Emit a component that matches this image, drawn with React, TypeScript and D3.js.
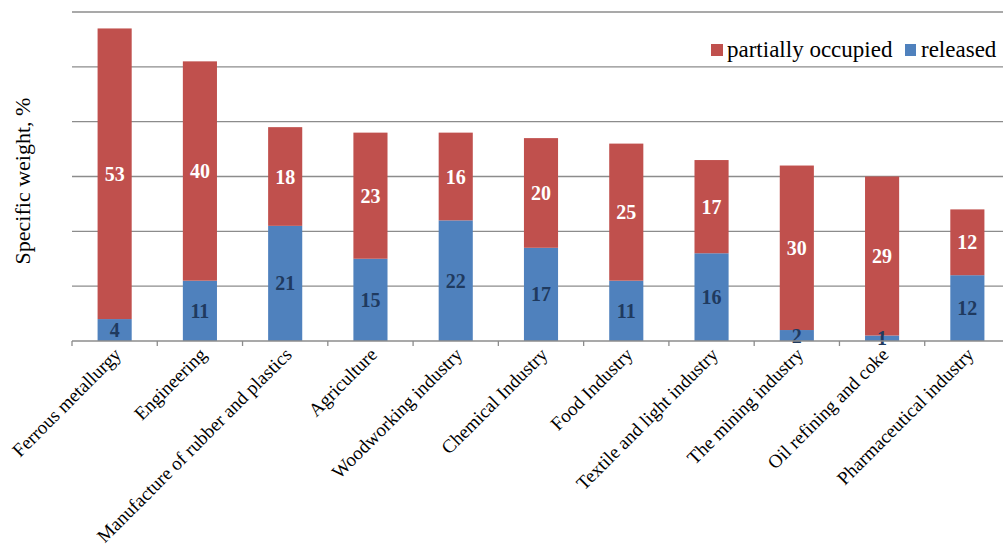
import React from 'react'
import * as d3 from 'd3'

const categories = [
  'Ferrous metallurgy',
  'Engineering',
  'Manufacture of rubber and plastics',
  'Agriculture',
  'Woodworking industry',
  'Chemical Industry',
  'Food Industry',
  'Textile and light industry',
  'The mining industry',
  'Oil refining and coke',
  'Pharmaceutical industry',
]
const released = [4, 11, 21, 15, 22, 17, 11, 16, 2, 1, 12]
const partiallyOccupied = [53, 40, 18, 23, 16, 20, 25, 17, 30, 29, 12]
const yTicks = [0, 10, 20, 30, 40, 50, 60]

const W = 1003
const H = 546
const left = 72
const right = 1010
const top = 12
const bottom = 341
const RED = '#C0504D'
const BLUE = '#4F81BD'
const GRID = '#8c8c8c'
const FONT = 'Liberation Serif, Times New Roman, serif'

export default () => {
  const x = d3.scaleBand().domain(categories).range([left, right]).paddingInner(0).paddingOuter(0)
  const y = d3.scaleLinear().domain([0, 60]).range([bottom, top])
  const bw = x.bandwidth() * 0.4

  const rows = categories.map((c, i) => ({ c, released: released[i], partial: partiallyOccupied[i] }))
  const stack = d3.stack<any>().keys(['released', 'partial'])(rows)
  const colors = [BLUE, RED]
  const labelColors = ['#1F3A5F', '#ffffff']

  return (
    <svg width={W} height={H} style={{ position: 'absolute', left: 0, top: 0, fontFamily: FONT }}>
      <rect width={W} height={H} fill="#fff" />
      {yTicks.slice(1).map((t) => (
        <line key={t} x1={left} x2={right} y1={y(t)} y2={y(t)} stroke={GRID} strokeWidth={1.3} />
      ))}
      {stack.map((s, si) => (
        <g key={s.key}>
          {s.map((d, i) => (
            <rect
              key={i}
              x={x(categories[i])! + (x.bandwidth() - bw) / 2}
              y={y(d[1])}
              width={bw}
              height={y(d[0]) - y(d[1])}
              fill={colors[si]}
            />
          ))}
        </g>
      ))}
      {stack.map((s, si) => (
        <g key={'l' + s.key}>
          {s.map((d, i) => (
            <text
              key={i}
              x={x(categories[i])! + x.bandwidth() / 2}
              y={(y(d[0]) + y(d[1])) / 2}
              dy="0.35em"
              textAnchor="middle"
              fill={labelColors[si]}
              style={{ fontFamily: FONT }}
              fontWeight="bold"
              fontSize={20}
            >
              {d[1] - d[0]}
            </text>
          ))}
        </g>
      ))}
      <line x1={left} x2={right} y1={bottom} y2={bottom} stroke={GRID} strokeWidth={1.3} />
      {categories.concat(['']).map((c, i) => {
        const tx = left + i * x.step()
        return <line key={i} x1={tx} x2={tx} y1={bottom} y2={bottom + 5} stroke={GRID} strokeWidth={1.3} />
      })}
      {categories.map((c) => {
        const cx = x(c)! + x.bandwidth() / 2 + 3
        return (
          <text
            key={c}
            transform={`translate(${cx},${bottom + 10}) rotate(-45)`}
            textAnchor="end"
            dy="0.35em"
            style={{ fontFamily: FONT }}
            fontSize={19}
            fill="#000"
          >
            {c}
          </text>
        )
      })}
      <text
        transform={`translate(30,181) rotate(-90)`}
        textAnchor="middle"
        style={{ fontFamily: FONT }}
        fontSize={22}
        fill="#000"
      >
        Specific weight, %
      </text>
      <g style={{ fontFamily: FONT }} fontSize={23}>
        <rect x={711} y={44} width={12} height={12} fill={RED} />
        <text x={727} y={57} fill="#000">partially occupied</text>
        <rect x={905} y={44} width={11} height={12} fill={BLUE} />
        <text x={921} y={57} fill="#000">released</text>
      </g>
    </svg>
  )
}
